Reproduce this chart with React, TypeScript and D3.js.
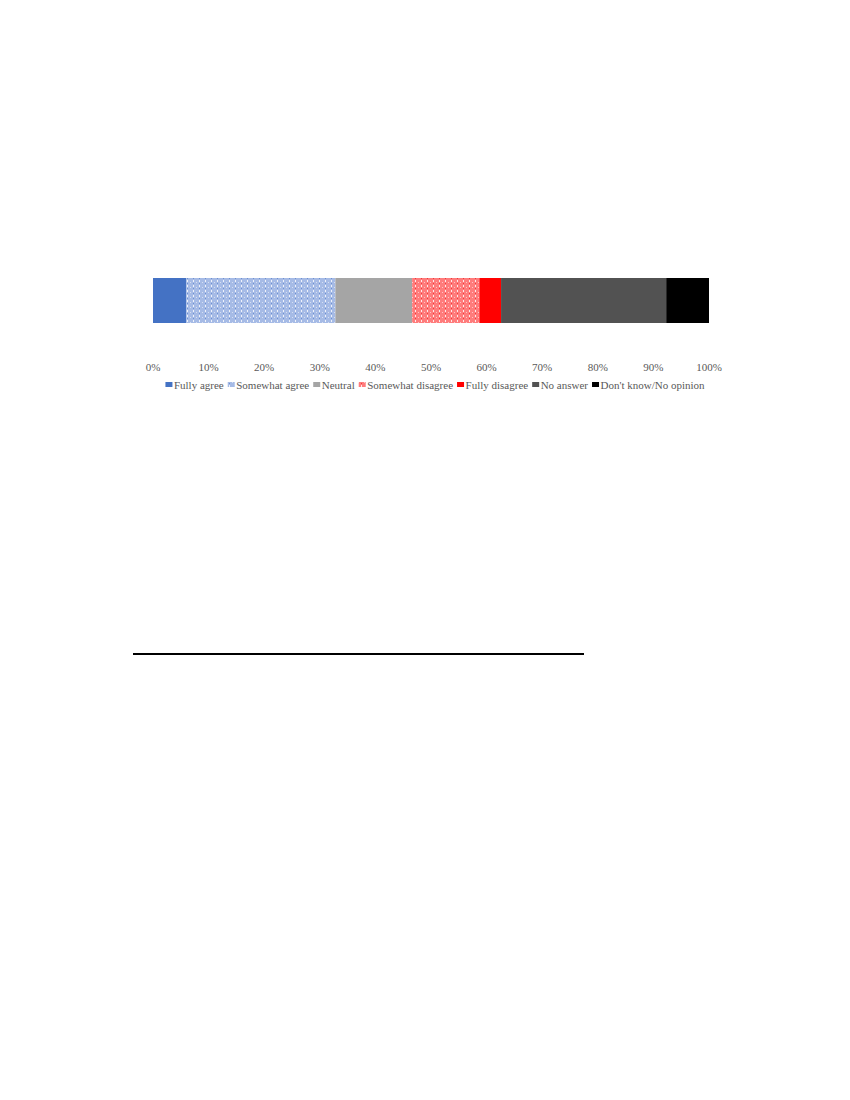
import React, { useMemo } from "react";
import * as d3 from "d3";

const categories = [
  "Fully agree",
  "Somewhat agree",
  "Neutral",
  "Somewhat disagree",
  "Fully disagree",
  "No answer",
  "Don't know/No opinion",
];
const values = [6.0, 26.8, 13.8, 12.1, 3.9, 29.7, 7.7];
const fills = [
  "#4472C4",
  "url(#patBlue)",
  "#A5A5A5",
  "url(#patRed)",
  "#FF0000",
  "#525252",
  "#000000",
];
const tickValues = [0, 10, 20, 30, 40, 50, 60, 70, 80, 90, 100];

const FONT = "'Liberation Serif', 'Times New Roman', serif";

function measure(text: string, size: number): number {
  if (typeof document === "undefined") return text.length * size * 0.45;
  const c = document.createElement("canvas").getContext("2d");
  if (!c) return text.length * size * 0.45;
  c.font = `${size}px 'Liberation Serif'`;
  return c.measureText(text).width;
}

export default function App() {
  const x = d3.scaleLinear().domain([0, 100]).range([153, 709]);
  const barTop = 278;
  const barH = 45;

  const stacked = useMemo(() => {
    let acc = 0;
    return values.map((v, i) => {
      const s = acc;
      acc += v;
      return { cat: categories[i], x0: s, x1: acc, fill: fills[i] };
    });
  }, []);

  const legend = useMemo(() => {
    const marker = 7;
    const gapMT = 1.5;
    const gapItem = 4;
    const widths = categories.map((c) => measure(c, 11));
    const total =
      widths.reduce((a, b) => a + b, 0) +
      categories.length * (marker + gapMT) +
      (categories.length - 1) * gapItem;
    let cx = 435 - total / 2;
    return categories.map((c, i) => {
      const item = { cat: c, mx: cx, tx: cx + marker + gapMT, fill: fills[i] };
      cx += marker + gapMT + widths[i] + gapItem;
      return item;
    });
  }, []);

  return (
    <svg
      width={850}
      height={1100}
      style={{ position: "absolute", left: 0, top: 0, background: "#fff" }}
    >
      <defs>
        <pattern id="patBlue" width={6} height={5} patternUnits="userSpaceOnUse">
          <rect width={6} height={5} fill="#A6BBE6" />
          <rect x={1} y={0} width={1} height={2} fill="#EEF2FA" />
          <rect x={1} y={3} width={1} height={1} fill="#6E90D0" />
          <rect x={4} y={2} width={1} height={1} fill="#D5DFF3" />
        </pattern>
        <pattern id="patRed" width={6} height={5} patternUnits="userSpaceOnUse">
          <rect width={6} height={5} fill="#FF7C7C" />
          <rect x={1} y={0} width={1} height={2} fill="#FFEAEA" />
          <rect x={1} y={3} width={1} height={1} fill="#EE3A3A" />
          <rect x={4} y={2} width={1} height={1} fill="#FFC4C4" />
        </pattern>
      </defs>

      <g>
        {stacked.map((d) => (
          <rect
            key={d.cat}
            x={x(d.x0)}
            y={barTop}
            width={x(d.x1) - x(d.x0)}
            height={barH}
            fill={d.fill}
          />
        ))}
      </g>

      <g fontFamily={FONT} fontSize={11} fill="#595959">
        {tickValues.map((t) => (
          <text key={t} x={x(t)} y={371} textAnchor="middle">
            {t}%
          </text>
        ))}
      </g>

      <g fontFamily={FONT} fontSize={11} fill="#595959">
        {legend.map((l) => (
          <g key={l.cat}>
            <rect x={l.mx} y={382} width={7} height={5} fill={l.fill} />
            <text x={l.tx} y={388.5}>
              {l.cat}
            </text>
          </g>
        ))}
      </g>

      <line x1={133} x2={584} y1={654} y2={654} stroke="#000" strokeWidth={2} />
    </svg>
  );
}
